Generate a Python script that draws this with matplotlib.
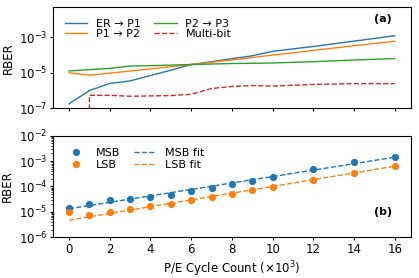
import matplotlib as mpl
mpl.use('Agg')
import matplotlib.pyplot as plt
import numpy as np

# P/E cycles (x1000)
pe = [0, 1, 2, 3, 4, 5, 6, 7, 8, 9, 10, 12, 14, 16]

# (a) error rate per transition
er_p1 = [1.8e-7, 1.0e-6, 2.5e-6, 3.5e-6, 7.0e-6, 1.4e-5, 2.9e-5, 4.2e-5, 6.2e-5, 9.0e-5, 1.6e-4, 3.0e-4, 6.0e-4, 1.2e-3]
p1_p2 = [1.0e-5, 7.3e-6, 9.5e-6, 1.25e-5, 1.65e-5, 2.2e-5, 2.9e-5, 3.9e-5, 5.3e-5, 7.2e-5, 9.8e-5, 1.8e-4, 3.3e-4, 5.9e-4]
p2_p3 = [1.26e-5, 1.5e-5, 1.75e-5, 2.4e-5, 2.5e-5, 2.7e-5, 2.9e-5, 3.1e-5, 3.3e-5, 3.4e-5, 3.55e-5, 4.2e-5, 5.2e-5, 6.3e-5]
multi = [0, 5.4e-7, 5.4e-7, 4.8e-7, 5.0e-7, 5.2e-7, 6.2e-7, 1.3e-6, 1.7e-6, 1.9e-6, 1.8e-6, 2.2e-6, 2.45e-6, 2.45e-6]

# (b) per-page error rate
msb = [1.38e-5, 2.1e-5, 2.8e-5, 3.2e-5, 3.7e-5, 4.6e-5, 6.4e-5, 8.7e-5, 1.2e-4, 1.7e-4, 2.4e-4, 4.7e-4, 9.5e-4, 1.5e-3]
lsb = [1.0e-5, 7.6e-6, 1.0e-5, 1.3e-5, 1.7e-5, 2.1e-5, 2.9e-5, 3.7e-5, 5.0e-5, 7.0e-5, 9.8e-5, 1.85e-4, 3.4e-4, 6.6e-4]

# exponential fits, log10(RBER) = a + b*x
msb_fit = (-4.88, 0.127)
lsb_fit = (-5.33, 0.133)

plt.rcParams['axes.unicode_minus'] = False
fig, (ax1, ax2) = plt.subplots(2, 1, figsize=(4.19, 2.78), dpi=100, sharex=True)
fig.subplots_adjust(left=0.126, right=0.981, top=0.975, bottom=0.147, hspace=0.27)
fs = 8
tfs = 8.5

ax1.plot(pe, er_p1, color='C0', lw=1, label='ER \u2192 P1')
ax1.plot(pe, p1_p2, color='C1', lw=1, label='P1 \u2192 P2')
ax1.plot(pe, p2_p3, color='C2', lw=1, label='P2 \u2192 P3')
ax1.plot(pe, multi, color='C3', lw=1, ls='--', label='Multi-bit')
ax1.set_yscale('log')
ax1.set_ylim(1e-7, 5e-2)
ax1.set_yticks([1e-7, 1e-5, 1e-3])
ax1.yaxis.set_minor_locator(mpl.ticker.NullLocator())
ax1.set_ylabel('RBER', fontsize=tfs, labelpad=3)
ax1.tick_params(labelsize=tfs, length=2, pad=2)
ax1.tick_params(axis='x', labelbottom=False)
ax1.legend(fontsize=fs, ncol=2, loc='upper left', frameon=False,
	handlelength=2.0, columnspacing=1.2, labelspacing=0.0, borderaxespad=0.7)
ax1.text(0.947, 0.93, '(a)', transform=ax1.transAxes, fontsize=fs, fontweight='bold', ha='right', va='top')

xf = np.array([0, 16])
ax2.plot(pe, msb, 'o', color='C0', ms=4.2, label='MSB')
ax2.plot(pe, lsb, 'o', color='C1', ms=4.2, label='LSB')
ax2.plot(xf, 10 ** (msb_fit[0] + msb_fit[1] * xf), color='C0', lw=1, ls='--', label='MSB fit')
ax2.plot(xf, 10 ** (lsb_fit[0] + lsb_fit[1] * xf), color='C1', lw=1, ls='--', label='LSB fit')
ax2.set_yscale('log')
ax2.set_ylim(1e-6, 1e-2)
ax2.set_xlim(-0.8, 16.8)
ax2.set_xticks(range(0, 17, 2))
ax2.set_ylabel('RBER', fontsize=tfs, labelpad=3)
ax2.set_xlabel('P/E Cycle Count ($\\times 10^3$)', fontsize=tfs, labelpad=3)
ax2.tick_params(labelsize=tfs, length=2, pad=2)
ax2.tick_params(which='minor', length=1.2)
ax2.legend(fontsize=fs, ncol=2, loc='upper left', frameon=False,
	handlelength=2.0, columnspacing=1.2, labelspacing=0.2, borderaxespad=0.7)
ax2.text(0.947, 0.2, '(b)', transform=ax2.transAxes, fontsize=fs, fontweight='bold', ha='right', va='bottom')

plt.savefig('out.png', dpi=100)
